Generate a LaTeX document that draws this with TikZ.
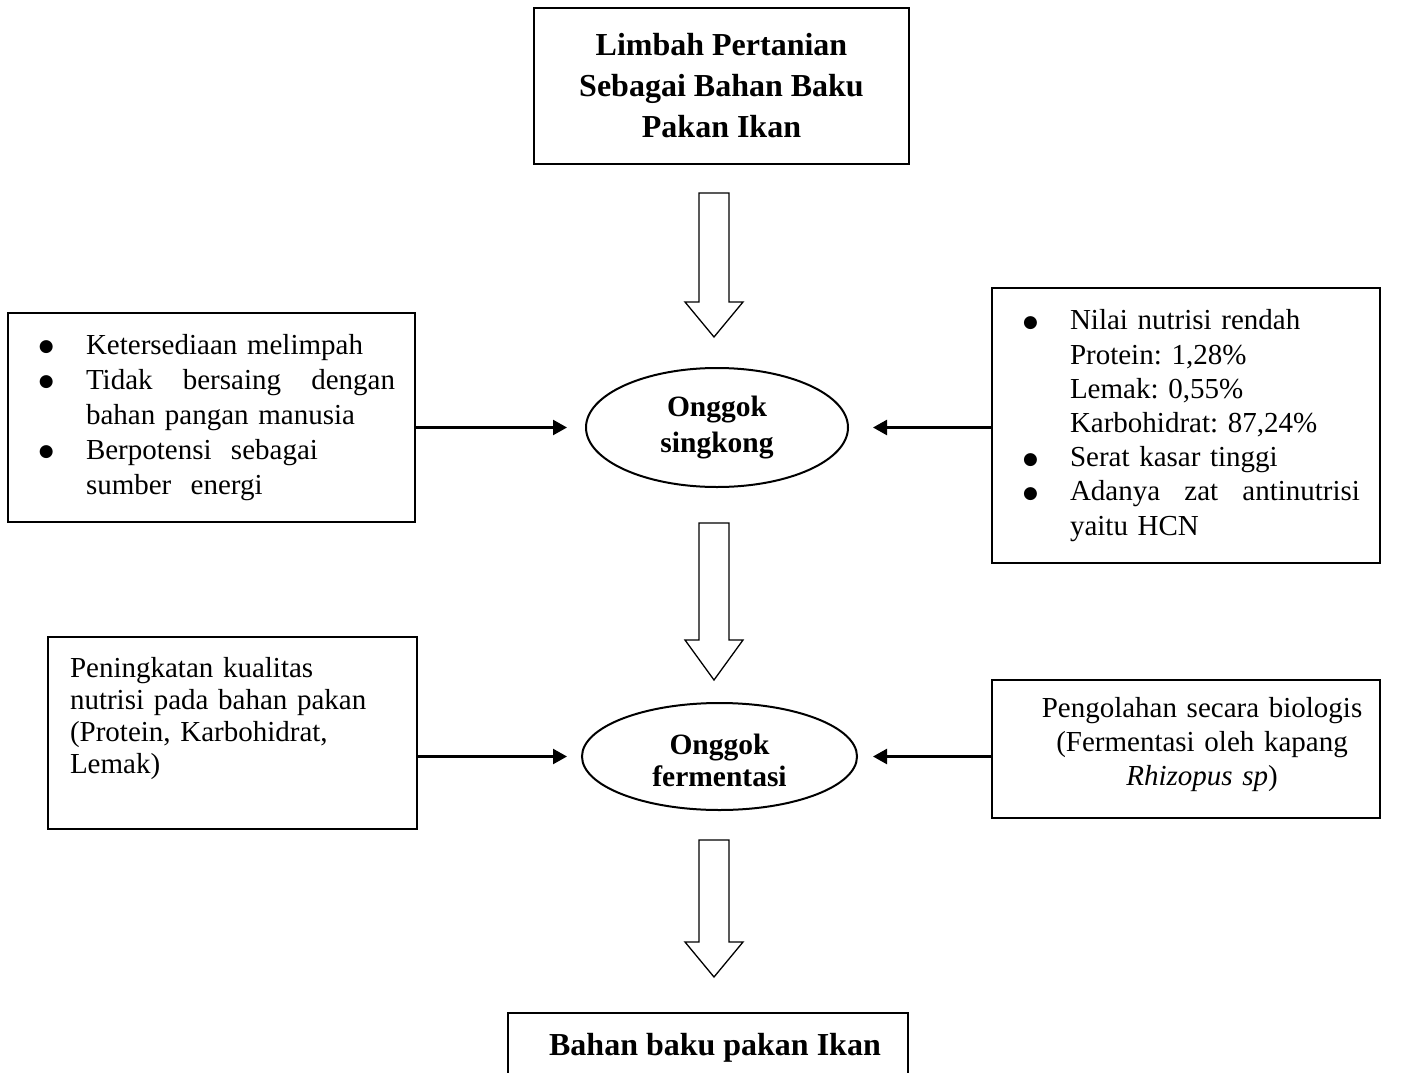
\documentclass[tikz,border=0pt]{standalone}
\usepackage{fontspec}
\setmainfont{Liberation Serif}
\newfontfamily\symfont{DejaVu Sans}
\usetikzlibrary{shapes.geometric,arrows.meta}
\frenchspacing

\newcommand{\itembul}{\hspace*{31pt}\makebox[47pt][l]{\raisebox{2.5pt}{\symfont\fontsize{17}{17}\selectfont ●}}}
\newcommand{\itemind}{\hspace*{78pt}}
\newcommand{\bigdown}[3]{\draw[blockarrow] (#1) ++(-15,0) -- ++(30,0) -- ++(0,#2) -- ++(14,0) -- ++(-29,#3) -- ++(-29,-#3) -- ++(14,0) -- cycle;}

\begin{document}
\begin{tikzpicture}
[ x=1pt, y=-1pt
, box/.style={rectangle, draw, line width=2pt, inner xsep=0pt}
, oval/.style={ellipse, draw, line width=2pt, align=center}
, link/.style={line width=2.4pt, -{Triangle[length=14pt,width=15pt]}}
, blockarrow/.style={draw, line width=1.3pt}
]
\useasboundingbox (0,0) rectangle (1422,1073);
\clip (0,0) rectangle (1422,1073);

% Main column:
\node (limbah) [box, minimum width=375pt, minimum height=156pt, align=center, font=\bfseries\fontsize{32}{41}\selectfont] at (721.5,86) {Limbah Pertanian\\Sebagai Bahan Baku\\Pakan Ikan};
\node (singkong) [oval, minimum width=262pt, minimum height=119pt, font=\bfseries\fontsize{29.5}{36.5}\selectfont] at (717,427.5) {Onggok\\singkong};
\node (fermen) [oval, minimum width=275pt, minimum height=107pt, font=\bfseries\fontsize{29.5}{32}\selectfont] at (719.5,756.5) {\rule{0pt}{29pt}Onggok\\fermentasi};
\node (hasil) [box, minimum width=400pt, minimum height=69pt, font=\bfseries\fontsize{32}{41}\selectfont] at (708,1047.5) {\hspace*{14pt}Bahan baku pakan Ikan};

% Side boxes:
\node (plus) [box, text width=407pt, minimum height=209pt, align=left, font=\fontsize{29}{35}\selectfont] at (211.5,417.5)
 {\itembul Ketersediaan melimpah\\
  \itembul \makebox[309pt][l]{Tidak\hfill bersaing\hfill dengan}\\
  \itemind bahan pangan manusia\\
  \itembul Berpotensi\ \ sebagai\\
  \itemind sumber\ \ energi};
\node (minus) [box, text width=388pt, minimum height=275pt, align=left, font=\fontsize{29}{34.2}\selectfont] at (1186,425.5)
 {\itembul Nilai nutrisi rendah\\
  \itemind Protein: 1,28\%\\
  \itemind Lemak: 0,55\%\\
  \itemind Karbohidrat: 87,24\%\\
  \itembul Serat kasar tinggi\\
  \itembul \makebox[290pt][l]{Adanya\hfill zat\hfill antinutrisi}\\
  \itemind yaitu HCN};
\node (mutu) [box, text width=369pt, minimum height=192pt, align=left, font=\fontsize{29}{32}\selectfont] at (232.5,733)
 {\hspace*{22pt}Peningkatan kualitas\\
  \hspace*{22pt}nutrisi pada bahan pakan\\
  \hspace*{22pt}(Protein, Karbohidrat,\\
  \hspace*{22pt}Lemak)\rule[-36pt]{0pt}{36pt}};
\node (olah) [box, text width=388pt, minimum height=138pt, align=center, font=\fontsize{29}{34}\selectfont] at (1186,749)
 {\hspace*{32pt}Pengolahan secara biologis\\
  \hspace*{32pt}(Fermentasi oleh kapang\\
  \hspace*{32pt}\textit{Rhizopus sp})\rule[-16pt]{0pt}{16pt}};

% Big arrows:
\coordinate (a1) at (714,193);
\coordinate (a2) at (714,523);
\coordinate (a3) at (714,840);
\bigdown{a1}{109}{35}
\bigdown{a2}{117}{40}
\bigdown{a3}{102}{35}

% Side arrows:
\draw [link, shorten >=18pt] (plus.east |- singkong.west) -- (singkong.west);
\draw [link, shorten >=24pt] (minus.west |- singkong.east) -- (singkong.east);
\draw [link, shorten >=14pt] (mutu.east |- fermen.west) -- (fermen.west);
\draw [link, shorten >=15pt] (olah.west |- fermen.east) -- (fermen.east);
\end{tikzpicture}
\end{document}
